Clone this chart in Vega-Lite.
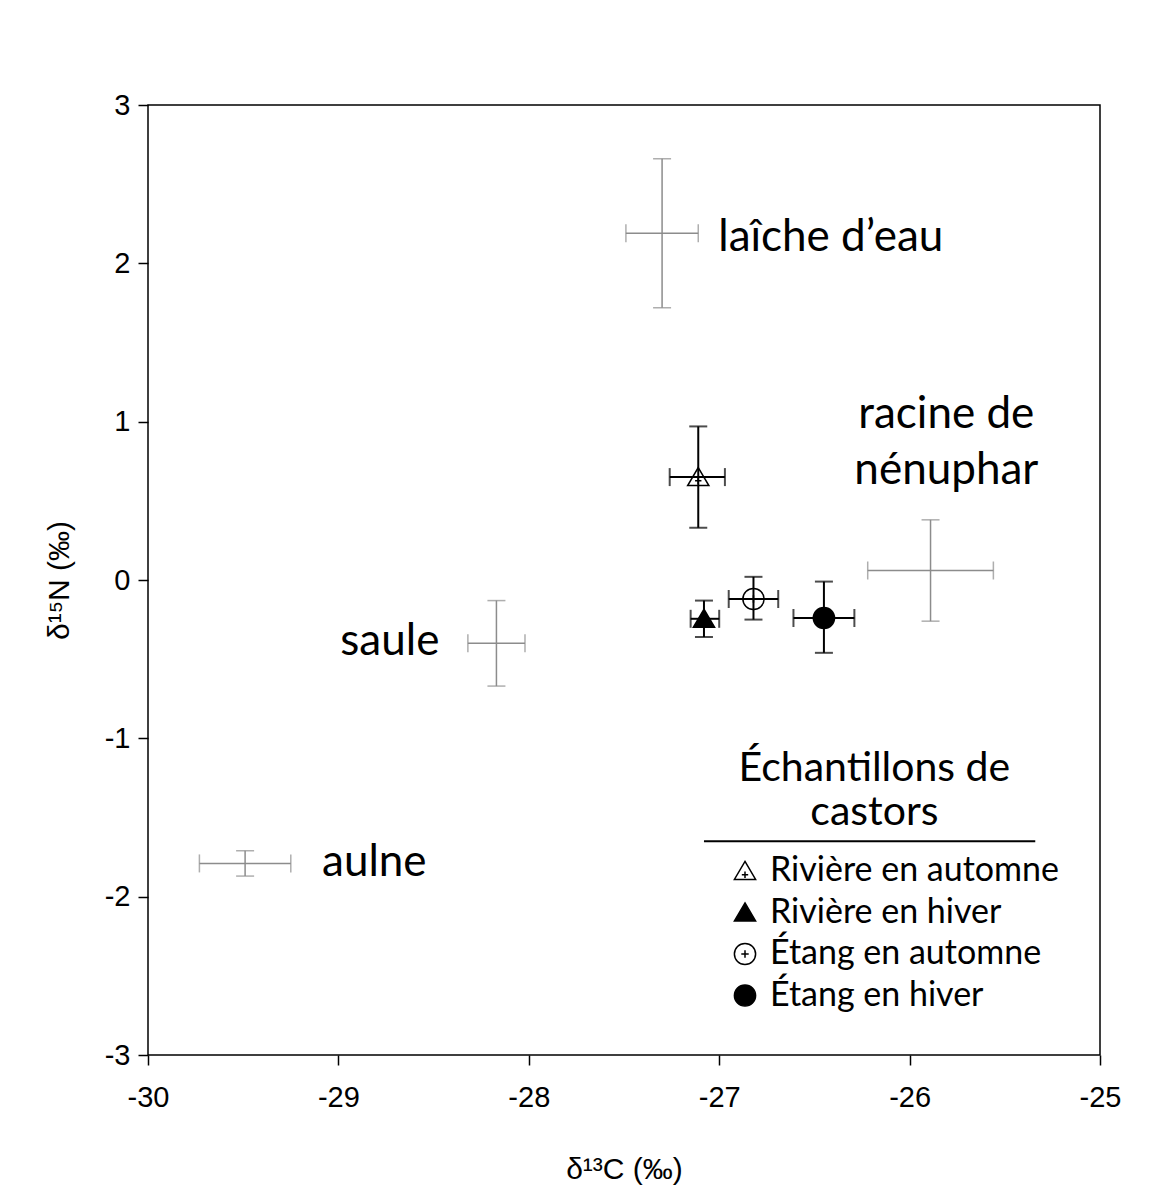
{
  "$schema": "https://vega.github.io/schema/vega-lite/v6.json",
  "width": 952,
  "height": 950,
  "autosize": {"type": "none"},
  "padding": {"left": 148, "top": 105, "right": 53, "bottom": 146},
  "background": "white",
  "config": {
    "view": {"stroke": "black", "strokeWidth": 1.5},
    "axis": {
      "grid": false, "domain": false, "tickColor": "black", "tickSize": 10, "tickWidth": 1.5, "labelFlush": false,
      "labelColor": "black", "labelFont": "Liberation Sans", "labelFontSize": 29,
      "titleFont": "Liberation Sans", "titleFontSize": 30, "titleFontWeight": "normal", "titleColor": "black"
    },
    "legend": {
      "labelFont": "Lato", "labelFontSize": 34, "labelColor": "black", "labelOffset": 8, "labelLimit": 600,
      "symbolSize": 450, "symbolStrokeColor": "black", "symbolStrokeWidth": 1.5, "rowPadding": 7.5, "padding": 0
    }
  },
  "datasets": {
    "plants": [
      {"name": "laîche d’eau", "x": -27.30, "xlo": -27.49, "xhi": -27.11, "y": 2.19, "ylo": 1.72, "yhi": 2.66},
      {"name": "racine de nénuphar", "x": -25.89, "xlo": -26.22, "xhi": -25.56, "y": 0.06, "ylo": -0.26, "yhi": 0.38},
      {"name": "saule", "x": -28.17, "xlo": -28.32, "xhi": -28.02, "y": -0.40, "ylo": -0.67, "yhi": -0.13},
      {"name": "aulne", "x": -29.49, "xlo": -29.73, "xhi": -29.25, "y": -1.79, "ylo": -1.87, "yhi": -1.71}
    ],
    "beavers": [
      {"grp": "Rivière en automne", "x": -27.11, "xlo": -27.26, "xhi": -26.97, "y": 0.65, "ylo": 0.33, "yhi": 0.97},
      {"grp": "Rivière en hiver", "x": -27.08, "xlo": -27.15, "xhi": -27.00, "y": -0.245, "ylo": -0.36, "yhi": -0.13},
      {"grp": "Étang en automne", "x": -26.82, "xlo": -26.95, "xhi": -26.69, "y": -0.12, "ylo": -0.25, "yhi": 0.02},
      {"grp": "Étang en hiver", "x": -26.45, "xlo": -26.61, "xhi": -26.29, "y": -0.24, "ylo": -0.46, "yhi": -0.01}
    ],
    "labels": [
      {"label": "laîche d’eau", "lx": -27.005, "ly": 2.16},
      {"label": "saule", "lx": -28.99, "ly": -0.39},
      {"label": "aulne", "lx": -29.086, "ly": -1.79}
    ],
    "labels2": [
      {"label": "racine de\nnénuphar", "lx": -25.807, "ly": 1.042}
    ],
    "legendtitle": [
      {"label": "Échantillons de\ncastors", "lx": -26.185, "ly": -1.196}
    ],
    "underline": [
      {"x1": -27.08, "x2": -25.34, "y": -1.65}
    ]
  },
  "layer": [
    {
      "data": {"name": "plants"},
      "mark": {"type": "errorbar", "color": "#8c8c8c", "thickness": 1.5, "ticks": {"size": 18}},
      "encoding": {
        "x": {"field": "xlo", "type": "quantitative", "scale": {"domain": [-30, -25], "nice": false, "zero": false},
              "axis": {"values": [-30, -29, -28, -27, -26, -25], "labelExpr": "'' + datum.value", "title": "δ¹³C (‰)", "labelPadding": 18, "titlePadding": 42}},
        "x2": {"field": "xhi"},
        "y": {"field": "y", "type": "quantitative", "scale": {"domain": [-3, 3], "nice": false, "zero": false},
              "axis": {"values": [-3, -2, -1, 0, 1, 2, 3], "labelExpr": "'' + datum.value", "title": "δ¹⁵N (‰)", "labelPadding": 8, "titlePadding": 30}}
      }
    },
    {
      "data": {"name": "plants"},
      "mark": {"type": "errorbar", "color": "#8c8c8c", "thickness": 1.5, "ticks": {"size": 18}},
      "encoding": {
        "y": {"field": "ylo", "type": "quantitative", "title": "δ¹⁵N (‰)"},
        "y2": {"field": "yhi"},
        "x": {"field": "x", "type": "quantitative", "title": "δ¹³C (‰)"}
      }
    },
    {
      "data": {"name": "beavers"},
      "mark": {"type": "point", "filled": true, "strokeWidth": 1.5, "opacity": 1, "size": 450},
      "encoding": {
        "x": {"field": "x", "type": "quantitative", "title": "δ¹³C (‰)"},
        "y": {"field": "y", "type": "quantitative", "title": "δ¹⁵N (‰)"},
        "shape": {
          "field": "grp", "type": "nominal", "title": null,
          "scale": {
            "domain": ["Rivière en automne", "Rivière en hiver", "Étang en automne", "Étang en hiver"],
            "range": ["M0,-0.9L1,0.8L-1,0.8Z M-0.3,0.35H0.3 M0,0.05V0.65", "M0,-0.9L1,0.8L-1,0.8Z", "M-1,0A1,1 0 1,1 1,0A1,1 0 1,1 -1,0Z M-0.35,0H0.35 M0,-0.35V0.35", "circle"]
          },
          "legend": {"orient": "none", "legendX": 580, "legendY": 749}
        },
        "fill": {
          "field": "grp", "type": "nominal", "title": null,
          "scale": {
            "domain": ["Rivière en automne", "Rivière en hiver", "Étang en automne", "Étang en hiver"],
            "range": ["white", "black", "white", "black"]
          },
          "legend": {"orient": "none", "legendX": 580, "legendY": 749}
        },
        "stroke": {
          "field": "grp", "type": "nominal", "title": null,
          "scale": {
            "domain": ["Rivière en automne", "Rivière en hiver", "Étang en automne", "Étang en hiver"],
            "range": ["black", "black", "black", "black"]
          },
          "legend": {"orient": "none", "legendX": 580, "legendY": 749}
        }
      }
    },
    {
      "data": {"name": "beavers"},
      "mark": {"type": "errorbar", "color": "black", "thickness": 2, "ticks": {"size": 18}},
      "encoding": {
        "x": {"field": "xlo", "type": "quantitative", "title": "δ¹³C (‰)"},
        "x2": {"field": "xhi"},
        "y": {"field": "y", "type": "quantitative", "title": "δ¹⁵N (‰)"}
      }
    },
    {
      "data": {"name": "beavers"},
      "mark": {"type": "errorbar", "color": "black", "thickness": 2, "ticks": {"size": 18}},
      "encoding": {
        "y": {"field": "ylo", "type": "quantitative", "title": "δ¹⁵N (‰)"},
        "y2": {"field": "yhi"},
        "x": {"field": "x", "type": "quantitative", "title": "δ¹³C (‰)"}
      }
    },
    {
      "data": {"name": "labels"},
      "mark": {"type": "text", "align": "left", "baseline": "middle", "font": "Lato", "fontSize": 44, "color": "black"},
      "encoding": {
        "x": {"field": "lx", "type": "quantitative", "title": "δ¹³C (‰)"},
        "y": {"field": "ly", "type": "quantitative", "title": "δ¹⁵N (‰)"},
        "text": {"field": "label"}
      }
    },
    {
      "data": {"name": "labels2"},
      "mark": {"type": "text", "align": "center", "baseline": "middle", "font": "Lato", "fontSize": 44, "lineHeight": 56, "lineBreak": "\n", "color": "black"},
      "encoding": {
        "x": {"field": "lx", "type": "quantitative", "title": "δ¹³C (‰)"},
        "y": {"field": "ly", "type": "quantitative", "title": "δ¹⁵N (‰)"},
        "text": {"field": "label"}
      }
    },
    {
      "data": {"name": "legendtitle"},
      "mark": {"type": "text", "align": "center", "baseline": "middle", "font": "Lato", "fontSize": 41, "lineHeight": 44, "lineBreak": "\n", "color": "black"},
      "encoding": {
        "x": {"field": "lx", "type": "quantitative", "title": "δ¹³C (‰)"},
        "y": {"field": "ly", "type": "quantitative", "title": "δ¹⁵N (‰)"},
        "text": {"field": "label"}
      }
    },
    {
      "data": {"name": "underline"},
      "mark": {"type": "rule", "color": "black", "strokeWidth": 2},
      "encoding": {
        "x": {"field": "x1", "type": "quantitative", "title": "δ¹³C (‰)"},
        "x2": {"field": "x2"},
        "y": {"field": "y", "type": "quantitative", "title": "δ¹⁵N (‰)"}
      }
    }
  ]
}
